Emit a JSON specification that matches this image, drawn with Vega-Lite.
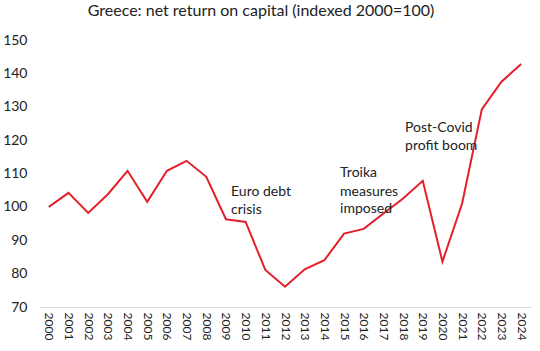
{
  "$schema": "https://vega.github.io/schema/vega-lite/v6.json",
  "width": 492,
  "height": 267,
  "autosize": {"type": "none"},
  "padding": {"left": 39, "top": 40, "right": 9, "bottom": 44},
  "background": "white",
  "title": {"text": "Greece: net return on capital (indexed 2000=100)", "fontSize": 16, "font": "Lato", "fontWeight": "normal", "color": "#222", "anchor": "middle", "dx": -24, "offset": 14},
  "config": {"view": {"stroke": null}, "font": "Lato", "axis": {"labelOverlap": false, "labelFlush": false}},
  "encoding": {
    "x": {"field": "year", "type": "quantitative", "scale": {"domain": [1999.5, 2024.5], "nice": false, "zero": false},
      "axis": {"title": null, "values": [2000,2001,2002,2003,2004,2005,2006,2007,2008,2009,2010,2011,2012,2013,2014,2015,2016,2017,2018,2019,2020,2021,2022,2023,2024],
        "format": "d", "labelAngle": 90, "labelAlign": "left", "labelBaseline": "middle", "labelOverlap": false, "labelFlush": false, "ticks": false, "grid": false, "domainColor": "#d9d9d9", "labelFontSize": 12, "labelColor": "#222", "labelPadding": 5, "labelFont": "Lato"}},
    "y": {"field": "value", "type": "quantitative", "scale": {"domain": [70, 150], "nice": false, "zero": false},
      "axis": {"title": null, "values": [70,80,90,100,110,120,130,140,150], "labelOverlap": false, "labelFlush": false, "ticks": false, "grid": false, "domain": false, "labelFontSize": 14, "labelColor": "#222", "labelPadding": 12, "labelFont": "Lato"}}
  },
  "layer": [
    {
      "data": {"values": [
        {"year": 2000, "value": 100}, {"year": 2001, "value": 104.2}, {"year": 2002, "value": 98.2},
        {"year": 2003, "value": 103.8}, {"year": 2004, "value": 110.8}, {"year": 2005, "value": 101.5},
        {"year": 2006, "value": 110.8}, {"year": 2007, "value": 113.8}, {"year": 2008, "value": 109},
        {"year": 2009, "value": 96.3}, {"year": 2010, "value": 95.5}, {"year": 2011, "value": 81.1},
        {"year": 2012, "value": 76.1}, {"year": 2013, "value": 81.3}, {"year": 2014, "value": 84},
        {"year": 2015, "value": 92}, {"year": 2016, "value": 93.4}, {"year": 2017, "value": 98},
        {"year": 2018, "value": 102.5}, {"year": 2019, "value": 107.8}, {"year": 2020, "value": 83.6},
        {"year": 2021, "value": 101}, {"year": 2022, "value": 129.2}, {"year": 2023, "value": 137.5},
        {"year": 2024, "value": 142.8}
      ]},
      "mark": {"type": "line", "color": "#e3202a", "strokeWidth": 2}
    },
    {
      "data": {"values": [
        {"year": 2009.26, "value": 104.4, "label": "Euro debt"},
        {"year": 2009.26, "value": 99.0, "label": "crisis"},
        {"year": 2014.8, "value": 110.1, "label": "Troika"},
        {"year": 2014.8, "value": 104.6, "label": "measures"},
        {"year": 2014.8, "value": 99.4, "label": "imposed"},
        {"year": 2018.1, "value": 123.5, "label": "Post-Covid"},
        {"year": 2018.1, "value": 118.2, "label": "profit boom"}
      ]},
      "mark": {"type": "text", "align": "left", "baseline": "middle", "fontSize": 14, "color": "#222", "font": "Lato"},
      "encoding": {"text": {"field": "label"}}
    }
  ]
}
